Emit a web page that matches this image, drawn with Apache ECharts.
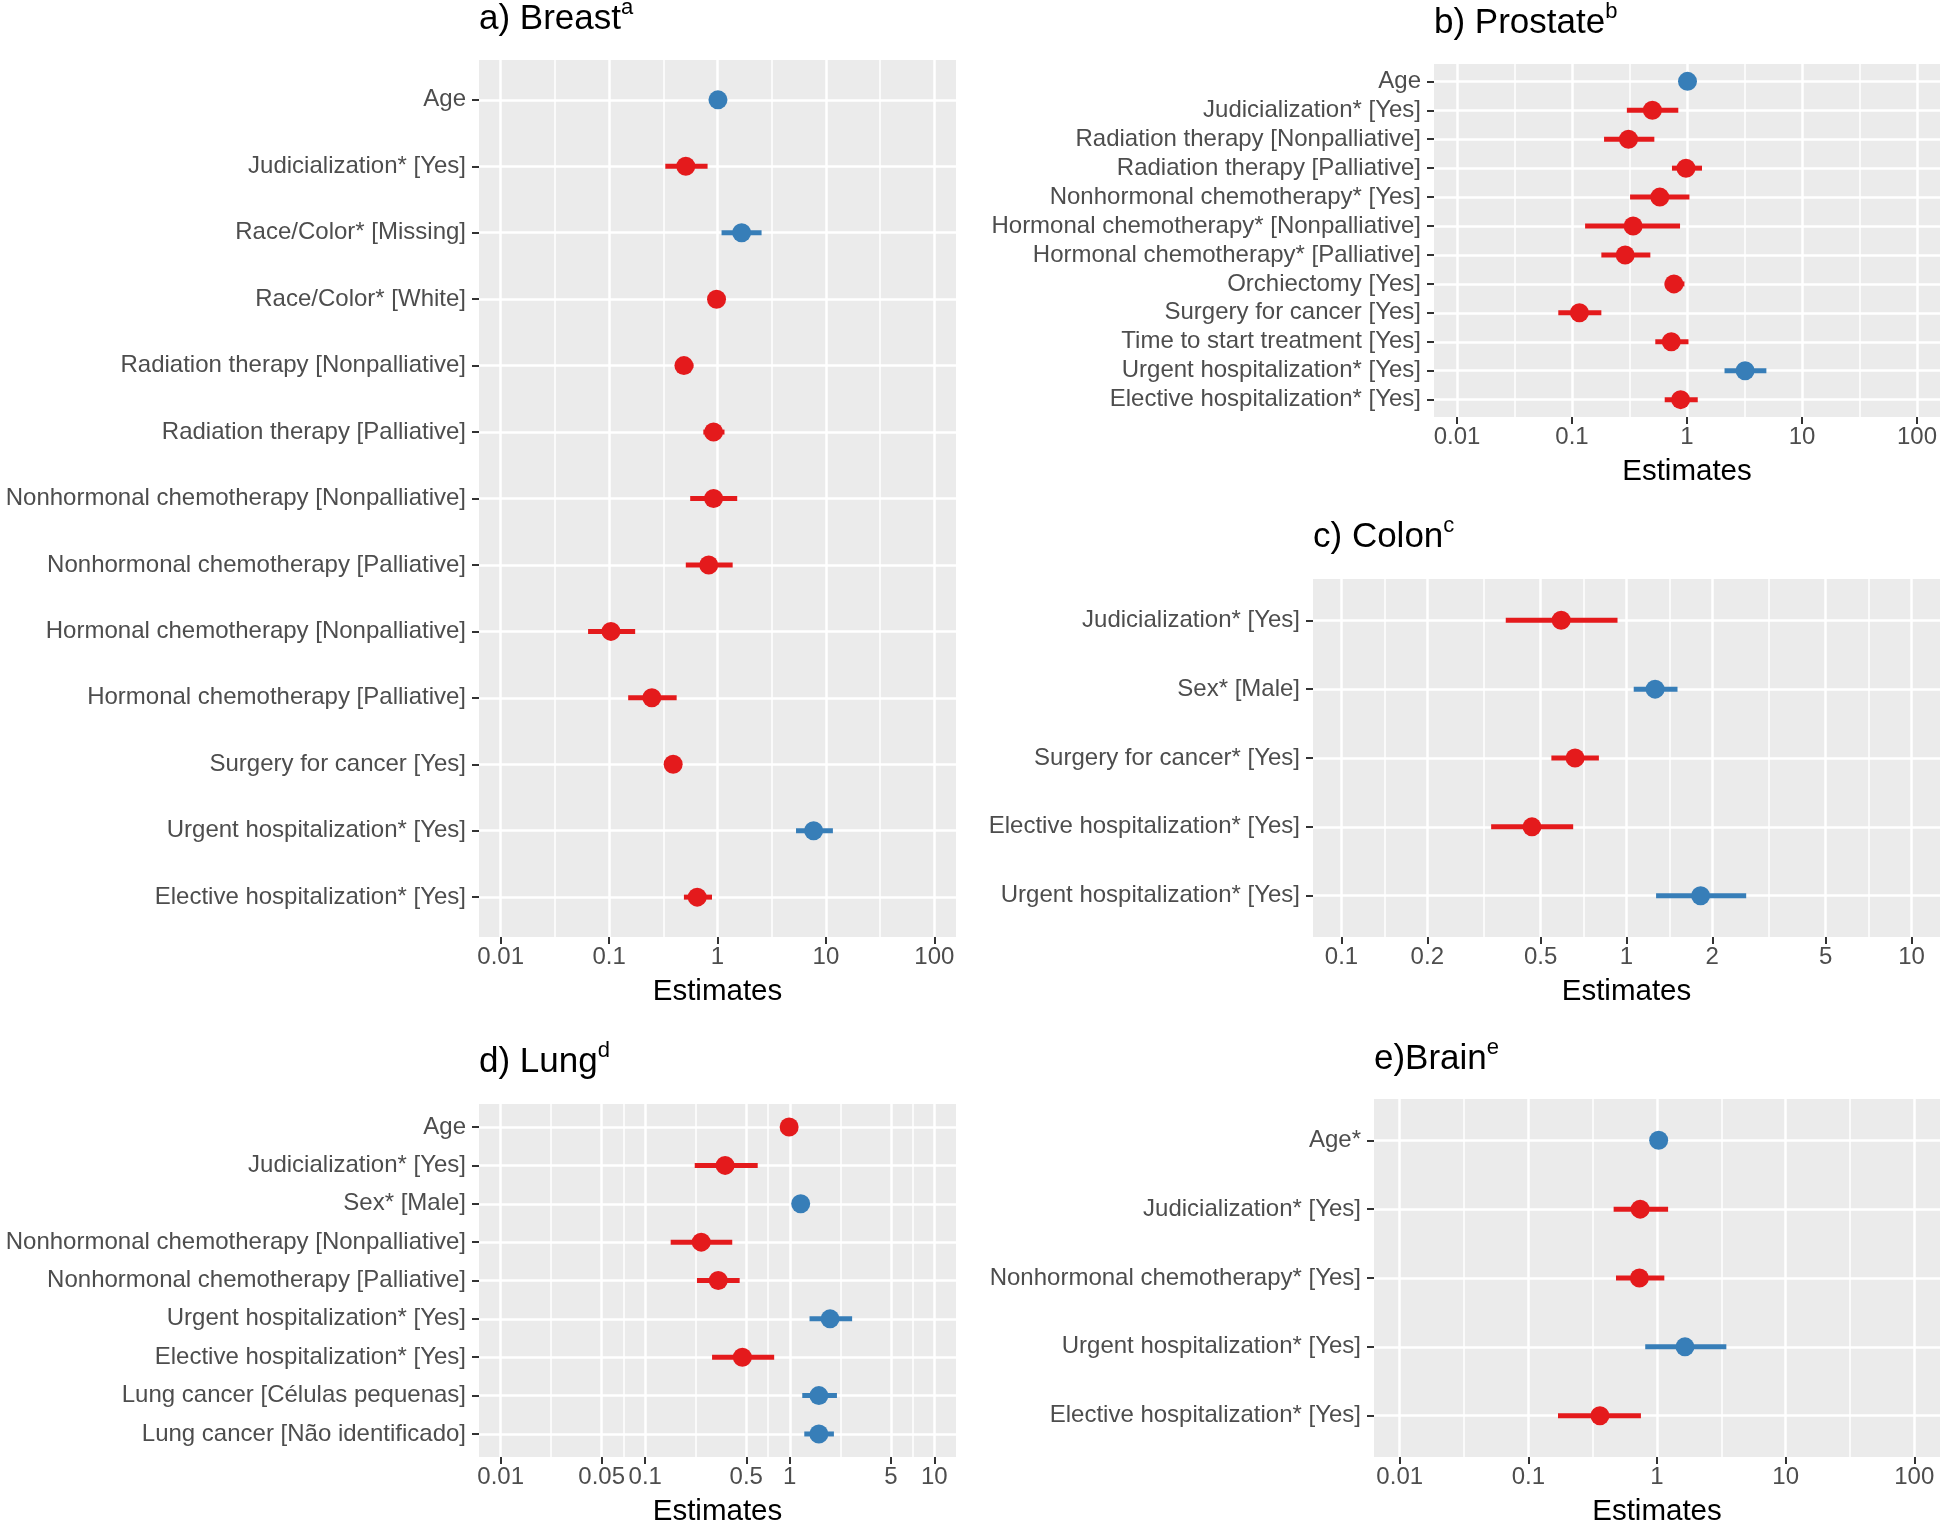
<!DOCTYPE html>
<html>
<head>
<meta charset="utf-8">
<script src="https://cdn.jsdelivr.net/npm/echarts@6/dist/echarts.min.js"></script>
<style>
  html, body { margin: 0; background: #fff; }
  #chart { width: 1945px; height: 1522px; }
</style>
</head>
<body>
<div id="chart"></div>
<script>
// ---- data (odds-ratio estimates with 95% CI) ----
const breastLabels = ['Age', 'Judicialization* [Yes]', 'Race/Color* [Missing]', 'Race/Color* [White]',
  'Radiation therapy [Nonpalliative]', 'Radiation therapy [Palliative]',
  'Nonhormonal chemotherapy [Nonpalliative]', 'Nonhormonal chemotherapy [Palliative]',
  'Hormonal chemotherapy [Nonpalliative]', 'Hormonal chemotherapy [Palliative]',
  'Surgery for cancer [Yes]', 'Urgent hospitalization* [Yes]', 'Elective hospitalization* [Yes]'];
const breastEst  = [1.01, 0.51, 1.67, 0.98, 0.49, 0.92, 0.92, 0.83, 0.104, 0.248, 0.39, 7.7, 0.65];
const breastLow  = [0.99, 0.33, 1.09, 0.90, 0.42, 0.74, 0.56, 0.51, 0.064, 0.15, 0.35, 5.3, 0.49];
const breastHigh = [1.02, 0.81, 2.55, 1.08, 0.60, 1.16, 1.52, 1.38, 0.174, 0.42, 0.44, 11.6, 0.89];

const prostateLabels = ['Age', 'Judicialization* [Yes]', 'Radiation therapy [Nonpalliative]',
  'Radiation therapy [Palliative]', 'Nonhormonal chemotherapy* [Yes]',
  'Hormonal chemotherapy* [Nonpalliative]', 'Hormonal chemotherapy* [Palliative]',
  'Orchiectomy [Yes]', 'Surgery for cancer [Yes]', 'Time to start treatment [Yes]',
  'Urgent hospitalization* [Yes]', 'Elective hospitalization* [Yes]'];
const prostateEst  = [1.01, 0.50, 0.31, 0.98, 0.58, 0.34, 0.29, 0.77, 0.116, 0.73, 3.2, 0.88];
const prostateLow  = [0.99, 0.30, 0.19, 0.74, 0.32, 0.13, 0.18, 0.64, 0.076, 0.53, 2.12, 0.64];
const prostateHigh = [1.02, 0.84, 0.52, 1.35, 1.05, 0.87, 0.48, 0.95, 0.18, 1.03, 4.9, 1.24];

const colonLabels = ['Judicialization* [Yes]', 'Sex* [Male]', 'Surgery for cancer* [Yes]',
  'Elective hospitalization* [Yes]', 'Urgent hospitalization* [Yes]'];
const colonEst  = [0.59, 1.26, 0.66, 0.466, 1.82];
const colonLow  = [0.377, 1.06, 0.545, 0.335, 1.27];
const colonHigh = [0.93, 1.51, 0.80, 0.65, 2.63];

const lungLabels = ['Age', 'Judicialization* [Yes]', 'Sex* [Male]',
  'Nonhormonal chemotherapy [Nonpalliative]', 'Nonhormonal chemotherapy [Palliative]',
  'Urgent hospitalization* [Yes]', 'Elective hospitalization* [Yes]',
  'Lung cancer [Células pequenas]', 'Lung cancer [Não identificado]'];
const lungEst  = [0.99, 0.357, 1.19, 0.244, 0.32, 1.90, 0.47, 1.59, 1.59];
const lungLow  = [0.98, 0.22, 1.17, 0.15, 0.228, 1.37, 0.29, 1.22, 1.26];
const lungHigh = [1.00, 0.60, 1.21, 0.40, 0.45, 2.70, 0.78, 2.12, 2.02];

const brainLabels = ['Age*', 'Judicialization* [Yes]', 'Nonhormonal chemotherapy* [Yes]',
  'Urgent hospitalization* [Yes]', 'Elective hospitalization* [Yes]'];
const brainEst  = [1.03, 0.74, 0.73, 1.65, 0.36];
const brainLow  = [1.01, 0.46, 0.48, 0.81, 0.17];
const brainHigh = [1.05, 1.22, 1.14, 3.46, 0.75];

// axis breaks
const decadeTicks = [0.01, 0.1, 1, 10, 100];
const colonTicks = [0.1, 0.2, 0.5, 1, 2, 5, 10];
const lungTicks = [0.01, 0.05, 0.1, 0.5, 1, 5, 10];

// ---- layout ----
const W = 1945, H = 1522;
const RED = '#E41A1C', BLUE = '#377EB8';
const FONT = '"Liberation Sans", Arial, Helvetica, sans-serif';

const panels = [
  { title: 'a) Breast', sup: 'a', labels: breastLabels, est: breastEst, lo: breastLow, hi: breastHigh,
    ticks: decadeTicks, L: 479, R: 956, T: 60, B: 937, titleY: 19 },
  { title: 'b) Prostate', sup: 'b', labels: prostateLabels, est: prostateEst, lo: prostateLow, hi: prostateHigh,
    ticks: decadeTicks, L: 1434, R: 1940, T: 64, B: 417, titleY: 23 },
  { title: 'c) Colon', sup: 'c', labels: colonLabels, est: colonEst, lo: colonLow, hi: colonHigh,
    ticks: colonTicks, L: 1313, R: 1940, T: 579, B: 937, titleY: 537 },
  { title: 'd) Lung', sup: 'd', labels: lungLabels, est: lungEst, lo: lungLow, hi: lungHigh,
    ticks: lungTicks, L: 479, R: 956, T: 1104, B: 1457, titleY: 1062 },
  { title: 'e)Brain', sup: 'e', labels: brainLabels, est: brainEst, lo: brainLow, hi: brainHigh,
    ticks: decadeTicks, L: 1374, R: 1940, T: 1099, B: 1457, titleY: 1059 },
];

const option = { animation: false, title: [], grid: [], xAxis: [], yAxis: [], series: [] };

panels.forEach(p => {
  const n = p.labels.length;
  const sp = (p.B - p.T) / (n - 1 + 1.2);
  const majors = p.ticks.map(t => Math.log10(t));
  const minors = majors.slice(1).map((m, i) => (m + majors[i]) / 2);
  const pad = (majors[majors.length - 1] - majors[0]) * 0.05;
  const xmin = majors[0] - pad, xmax = majors[majors.length - 1] + pad;
  const rows = p.labels.map((_, i) => i);

  const gBg = option.grid.length;
  option.grid.push({ left: p.L, right: W - p.R, top: p.T, bottom: H - p.B,
    show: true, backgroundColor: '#EBEBEB', borderWidth: 0, outerBoundsMode: 'none' });
  option.grid.push({ left: p.L, right: W - p.R, top: p.T + 0.6 * sp, bottom: H - p.B + 0.6 * sp,
    outerBoundsMode: 'none' });

  const xi = option.xAxis.length;
  option.xAxis.push({
    type: 'value', gridIndex: gBg, min: xmin, max: xmax, position: 'bottom',
    axisLine: { show: false, onZero: false },
    axisTick: { show: true, customValues: majors, length: 7, lineStyle: { color: '#333', width: 2 } },
    axisLabel: {
      customValues: majors, margin: 8, color: '#4D4D4D', fontSize: 24, fontFamily: FONT,
      formatter: v => {
        const t = p.ticks.find(t => Math.abs(Math.log10(t) - v) < 1e-6);
        return t == null ? '' : String(t);
      }
    },
    splitLine: { show: true, lineStyle: { color: '#FFFFFF', width: 2.5 } },
    name: 'Estimates', nameLocation: 'middle', nameGap: 40,
    nameTextStyle: { color: '#000', fontSize: 29.5, fontFamily: FONT }
  });
  option.xAxis.push({
    type: 'value', gridIndex: gBg, min: xmin, max: xmax, position: 'bottom',
    axisLine: { show: false, onZero: false },
    axisTick: { show: false, customValues: minors },
    axisLabel: { show: false, customValues: minors },
    splitLine: { show: true, lineStyle: { color: '#FFFFFF', width: 1.5 } }
  });
  option.xAxis.push({ type: 'value', gridIndex: gBg + 1, min: xmin, max: xmax, show: false });

  const yi = option.yAxis.length;
  // horizontal grid lines, one per row, over the whole grey panel
  option.yAxis.push({
    type: 'value', gridIndex: gBg, min: -0.6, max: n - 0.4, inverse: true,
    axisLine: { show: false, onZero: false },
    axisTick: { show: false, customValues: rows },
    axisLabel: { show: false, customValues: rows },
    splitLine: { show: true, lineStyle: { color: '#FFFFFF', width: 2.5 } }
  });
  option.yAxis.push({
    type: 'category', gridIndex: gBg + 1, data: p.labels, inverse: true, boundaryGap: false,
    axisLine: { show: false, onZero: false },
    axisTick: { show: true, interval: 0, length: 7, lineStyle: { color: '#333', width: 2 } },
    axisLabel: { interval: 0, margin: 13, color: '#4D4D4D', fontSize: 24, fontFamily: FONT },
    splitLine: { show: false }
  });

  // confidence intervals
  option.series.push({
    type: 'custom', xAxisIndex: xi + 2, yAxisIndex: yi + 1, silent: true, z: 2,
    encode: { x: [0, 1], y: 2 },
    data: p.est.map((e, i) => [Math.log10(p.lo[i]), Math.log10(p.hi[i]), i, e]),
    renderItem: (params, api) => {
      const a = api.coord([api.value(0), api.value(2)]);
      const b = api.coord([api.value(1), api.value(2)]);
      return {
        type: 'line',
        shape: { x1: a[0], y1: a[1], x2: b[0], y2: b[1] },
        style: { stroke: api.value(3) > 1 ? BLUE : RED, lineWidth: 5 }
      };
    }
  });
  // point estimates
  option.series.push({
    type: 'scatter', xAxisIndex: xi + 2, yAxisIndex: yi + 1, symbolSize: 19, silent: true, z: 3,
    data: p.est.map((e, i) => ({ value: [Math.log10(e), i], itemStyle: { color: e > 1 ? BLUE : RED, opacity: 1 } }))
  });

  // panel title with superscript footnote letter
  option.title.push({
    text: `{m|${p.title}}{s|${p.sup}}`,
    left: p.L, top: p.titleY - 22, padding: 0,
    textStyle: {
      fontWeight: 'normal',
      rich: {
        m: { fontSize: 35, color: '#000', fontFamily: FONT, fontWeight: 'normal', lineHeight: 44 },
        s: { fontSize: 22, color: '#000', fontFamily: FONT, fontWeight: 'normal', lineHeight: 2, verticalAlign: 'top' }
      }
    }
  });
});

const chart = echarts.init(document.getElementById('chart'), null, { renderer: 'canvas' });
chart.setOption(option);
</script>
</body>
</html>
